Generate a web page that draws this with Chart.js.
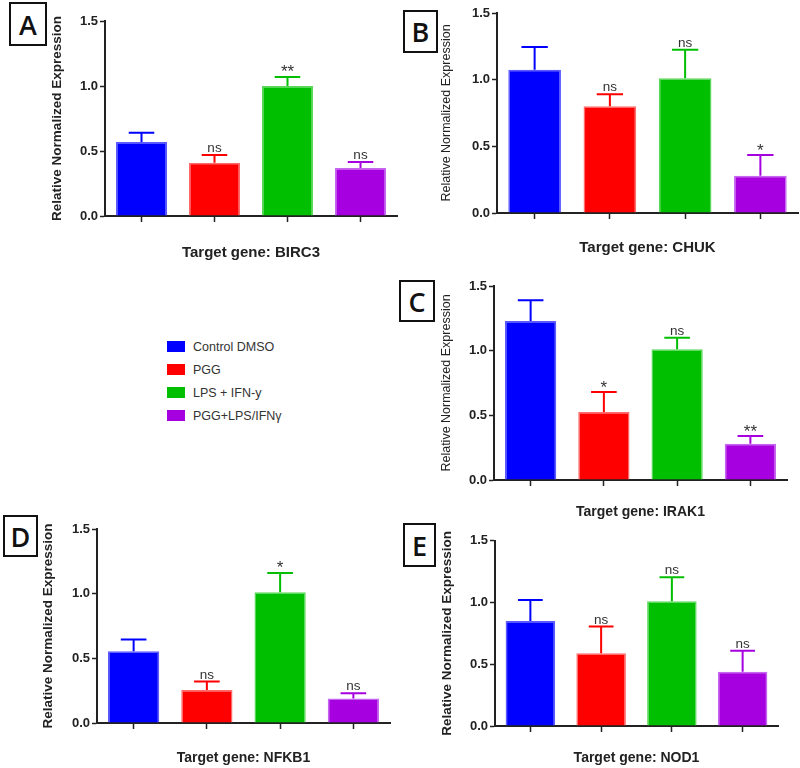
<!DOCTYPE html>
<html>
<head>
<meta charset="utf-8">
<script src="https://cdn.jsdelivr.net/npm/chart.js@4.4.1/dist/chart.umd.min.js"></script>
<style>
  body { margin: 0; background: #fff; }
  #page { position: relative; width: 800px; height: 768px; overflow: hidden; background: #fff; }
  #page canvas { position: absolute; }
  .tag {
    position: absolute; box-sizing: border-box; border: 2px solid #111; background: #fff;
    font: 600 27px "Open Sans", "Liberation Sans", sans-serif; color: #111;
    display: flex; align-items: center; justify-content: center; z-index: 2;
  }
  #legend { position: absolute; left: 167px; top: 335px; font: 12.5px "Liberation Sans", Arial, sans-serif; color: #333; }
  #legend .row { display: flex; align-items: center; height: 23px; }
  #legend .sw { width: 18px; height: 11px; margin-right: 8px; }
</style>
</head>
<body>
<div id="page">
  <div id="legend"></div>
</div>
<script>
const categories = ["Control DMSO", "PGG", "LPS + IFN-y", "PGG+LPS/IFNγ"];
const barColors = ["#0000FF", "#FF0000", "#00BE00", "#A600E0"];
const barEdges = ["#5A5AFF", "#FF6A6A", "#5AD85A", "#C466F0"];

const genes = ["BIRC3", "CHUK", "IRAK1", "NFKB1", "NOD1"];

const birc3Mean = [0.57, 0.41, 1.00, 0.37];
const birc3Err = [0.07, 0.06, 0.07, 0.045];
const birc3Sig = ["", "ns", "**", "ns"];

const chukMean = [1.075, 0.80, 1.01, 0.28];
const chukErr = [0.17, 0.09, 0.215, 0.155];
const chukSig = ["", "ns", "ns", "*"];

const irak1Mean = [1.23, 0.525, 1.01, 0.28];
const irak1Err = [0.16, 0.155, 0.09, 0.06];
const irak1Sig = ["", "*", "ns", "**"];

const nfkb1Mean = [0.555, 0.255, 1.01, 0.19];
const nfkb1Err = [0.09, 0.065, 0.15, 0.04];
const nfkb1Sig = ["", "ns", "*", "ns"];

const nod1Mean = [0.85, 0.59, 1.01, 0.44];
const nod1Err = [0.17, 0.215, 0.195, 0.17];
const nod1Sig = ["", "ns", "ns", "ns"];

const yTicks = [0, 0.5, 1.0, 1.5];

const FONT = "'Liberation Sans', Arial, sans-serif";
Chart.defaults.font.family = FONT;

const page = document.getElementById("page");

// upper error bars + significance marks
const errorBars = {
	id: "errorBars",
	afterDatasetsDraw(chart, args, opts) {
		const ctx = chart.ctx;
		const y = chart.scales.y;
		const ds = chart.data.datasets[0];
		ctx.save();
		chart.getDatasetMeta(0).data.forEach((bar, i) => {
			const base = y.getPixelForValue(ds.data[i]);
			const top = y.getPixelForValue(ds.data[i] + opts.err[i]);
			const half = bar.width * 0.25;
			ctx.strokeStyle = ds.backgroundColor[i];
			ctx.lineWidth = 2;
			ctx.beginPath();
			ctx.moveTo(bar.x, base);
			ctx.lineTo(bar.x, top);
			ctx.moveTo(bar.x - half, top);
			ctx.lineTo(bar.x + half, top);
			ctx.stroke();
			const s = opts.sig[i];
			if (s) {
				const star = s[0] === "*";
				ctx.fillStyle = "#333";
				ctx.font = (star ? "17px " : "13.5px ") + FONT;
				ctx.textAlign = "center";
				ctx.textBaseline = "alphabetic";
				ctx.fillText(s, bar.x, star ? top + 0.5 : top - 3);
			}
		});
		ctx.restore();
	},
};

const panels = [
	{ tag: "A", tagBox: [9, 2, 38, 44], gene: genes[0], mean: birc3Mean, err: birc3Err, sig: birc3Sig,
	  left: 45, top: 8, w: 360, h: 262, x0: 105, x1: 397, yTop: 21, y0: 216, titleY: 253, ylabX: 57,
	  ylabSize: 13.5, ylabWeight: "bold", titleSize: 15 },
	{ tag: "B", tagBox: [403, 10, 35, 43], gene: genes[1], mean: chukMean, err: chukErr, sig: chukSig,
	  left: 437, top: 2, w: 363, h: 262, x0: 497, x1: 798, yTop: 13, y0: 213, titleY: 248, ylabX: 447,
	  ylabSize: 12.5, ylabWeight: "normal", titleSize: 15 },
	{ tag: "C", tagBox: [399, 280, 36, 42], gene: genes[2], mean: irak1Mean, err: irak1Err, sig: irak1Sig,
	  left: 437, top: 274, w: 363, h: 250, x0: 494, x1: 787, yTop: 286, y0: 480, titleY: 512, ylabX: 447,
	  ylabSize: 12.5, ylabWeight: "normal", titleSize: 14 },
	{ tag: "D", tagBox: [3, 515, 35, 42], gene: genes[3], mean: nfkb1Mean, err: nfkb1Err, sig: nfkb1Sig,
	  left: 37, top: 518, w: 365, h: 250, x0: 97, x1: 390, yTop: 529, y0: 723, titleY: 758, ylabX: 48,
	  ylabSize: 13.5, ylabWeight: "bold", titleSize: 14 },
	{ tag: "E", tagBox: [403, 523, 33, 44], gene: genes[4], mean: nod1Mean, err: nod1Err, sig: nod1Sig,
	  left: 437, top: 531, w: 363, h: 237, x0: 495, x1: 778, yTop: 537, y0: 726, titleY: 758, ylabX: 447,
	  ylabSize: 13.5, ylabWeight: "bold", titleSize: 14 },
];

function makePanel(p) {
	const c = document.createElement("canvas");
	c.width = p.w;
	c.height = p.h;
	c.style.left = p.left + "px";
	c.style.top = p.top + "px";
	page.appendChild(c);

	const t = document.createElement("div");
	t.className = "tag";
	t.textContent = p.tag;
	t.style.left = p.tagBox[0] + "px";
	t.style.top = p.tagBox[1] + "px";
	t.style.width = p.tagBox[2] + "px";
	t.style.height = p.tagBox[3] + "px";
	page.appendChild(t);

	const ylh = p.ylabSize * 1.2;
	const xlh = p.titleSize * 1.2;

	new Chart(c, {
		type: "bar",
		data: {
			labels: categories,
			datasets: [{
				data: p.mean,
				backgroundColor: barColors,
				borderColor: barEdges,
				borderWidth: 1.5,
				barPercentage: 0.7,
				categoryPercentage: 1,
			}],
		},
		options: {
			responsive: false,
			animation: false,
			layout: { padding: { left: 0, top: p.yTop - p.top, right: p.left + p.w - p.x1, bottom: 0 } },
			plugins: {
				legend: { display: false },
				tooltip: { enabled: false },
				errorBars: { err: p.err, sig: p.sig },
			},
			scales: {
				x: {
					ticks: { display: false },
					grid: { offset: false, drawOnChartArea: false, tickLength: 6, tickColor: "#222", tickWidth: 1.5 },
					border: { color: "#222", width: 2 },
					title: {
						display: true,
						text: "Target gene: " + p.gene,
						color: "#222",
						font: { size: p.titleSize, weight: "bold" },
						padding: { top: 0, bottom: p.top + p.h - p.titleY - xlh / 2 },
					},
					afterFit(s) { s.height = p.top + p.h - p.y0; },
				},
				y: {
					min: 0,
					max: 1.5,
					afterBuildTicks(s) { s.ticks = yTicks.map((v) => ({ value: v })); },
					ticks: {
						callback: (v) => v.toFixed(1),
						color: "#222",
						font: { size: 13, weight: "bold" },
						padding: 2,
					},
					grid: { drawOnChartArea: false, tickLength: 5, tickColor: "#222", tickWidth: 1.5 },
					border: { color: "#222", width: 2 },
					title: {
						display: true,
						text: "Relative Normalized Expression",
						color: "#222",
						font: { size: p.ylabSize, weight: p.ylabWeight },
						padding: { top: p.ylabX - p.left - ylh / 2, bottom: 0 },
					},
					afterFit(s) { s.width = p.x0 - p.left; },
				},
			},
		},
		plugins: [errorBars],
	});
}

panels.forEach(makePanel);

// legend
const legend = document.getElementById("legend");
categories.forEach((name, i) => {
	const row = document.createElement("div");
	row.className = "row";
	const sw = document.createElement("span");
	sw.className = "sw";
	sw.style.background = barColors[i];
	const txt = document.createElement("span");
	txt.textContent = name;
	row.appendChild(sw);
	row.appendChild(txt);
	legend.appendChild(row);
});
</script>
</body>
</html>
